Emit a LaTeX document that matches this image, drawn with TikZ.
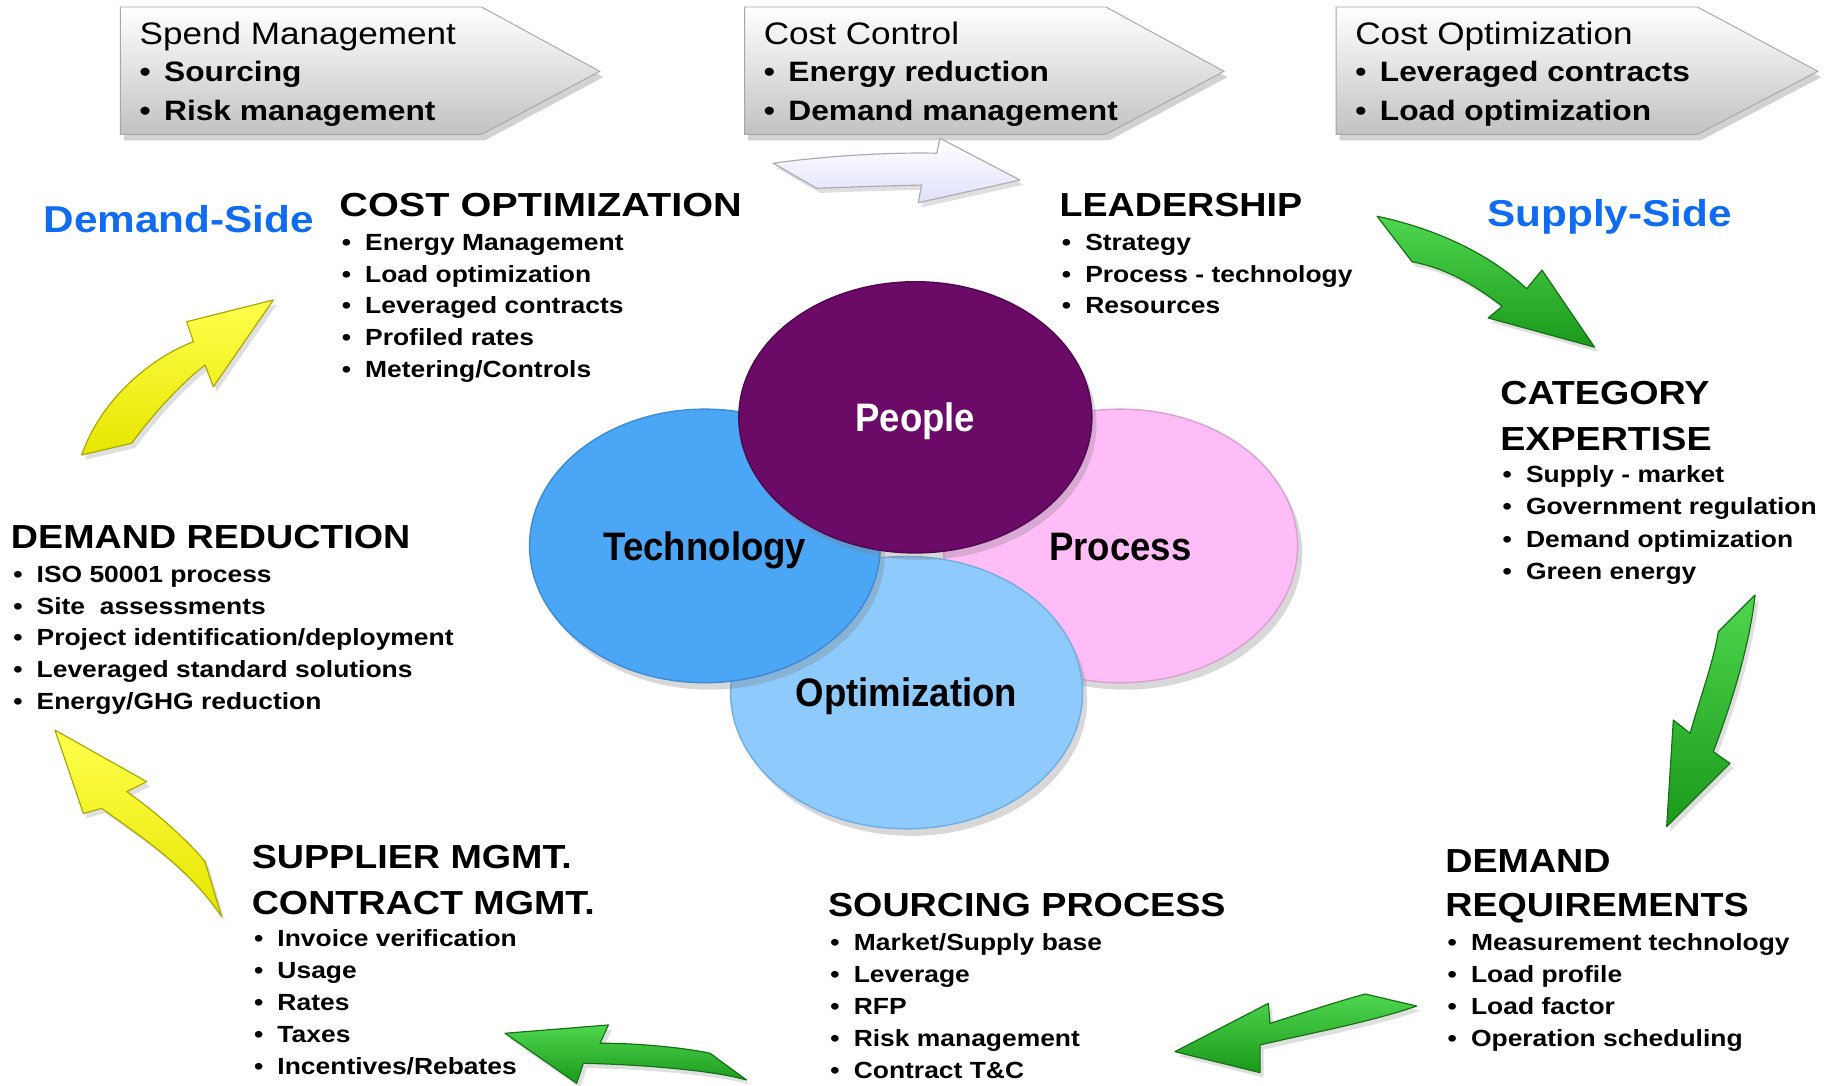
\documentclass[tikz,border=0pt]{standalone}
\usepackage{fontspec}
\setmainfont{Liberation Sans}[FakeStretch=1.13]
\newfontfamily\narrowf{Liberation Sans}[FakeStretch=0.92]
\newfontfamily\wideh{Liberation Sans}[FakeStretch=1.19]
\usetikzlibrary{shadows,shapes.geometric}
\definecolor{sideblue}{HTML}{0F6CF2}
\definecolor{techc}{HTML}{4BA6F5}
\definecolor{techd}{HTML}{3A8BD8}
\definecolor{procc}{HTML}{FFBDF7}
\definecolor{procd}{HTML}{D9A0D3}
\definecolor{peopc}{HTML}{6B0A67}
\definecolor{peopd}{HTML}{4F0750}
\definecolor{optic}{HTML}{8ECAFB}
\definecolor{optid}{HTML}{6FAFE6}
\definecolor{grA}{HTML}{4FD64F}
\definecolor{grB}{HTML}{1A991A}
\definecolor{grD}{HTML}{157015}
\definecolor{yeA}{HTML}{FFFF4D}
\definecolor{yeB}{HTML}{E6E600}
\definecolor{yeD}{HTML}{A8A800}
\definecolor{bangray}{HTML}{C2C2C2}
\newcommand\bm{\makebox[10pt][l]{•}}
\newcommand\bbm{\makebox[10.5pt][l]{•}}
\begin{document}
\begin{tikzpicture}[x=0.5pt,y=-0.5pt,
  hd/.style={anchor=base west, inner sep=0pt, font=\fontsize{14.25pt}{17pt}\selectfont\bfseries},
  bl/.style={anchor=base west, inner sep=0pt, font=\fontsize{10pt}{12pt}\selectfont\bfseries},
  banhd/.style={anchor=base west, inner sep=0pt, font=\fontsize{13.3pt}{16pt}\selectfont},
  banbl/.style={anchor=base west, inner sep=0pt, font=\fontsize{12pt}{14pt}\selectfont\bfseries},
  side/.style={anchor=base west, inner sep=0pt, font=\fontsize{16pt}{19pt}\selectfont\bfseries, text=sideblue},
  ell/.style={ellipse, inner sep=0pt, line width=0.6pt, text height=12.2pt, text depth=0pt,
    font=\narrowf\bfseries\fontsize{17pt}{20pt}\selectfont,
    drop shadow={shadow xshift=2pt, shadow yshift=-3pt, opacity=0.3}},
  banner/.style={top color=white, bottom color=bangray, draw=gray!70, line width=0.4pt,
    drop shadow={shadow xshift=1.5pt, shadow yshift=-2.5pt, opacity=0.35}},
  grarrow/.style={top color=grA, bottom color=grB, draw=grD, line width=0.5pt, line join=round,
    drop shadow={shadow xshift=1.5pt, shadow yshift=-2pt, opacity=0.25}},
  yearrow/.style={top color=yeA, bottom color=yeB, draw=yeD, line width=0.5pt, line join=round,
    drop shadow={shadow xshift=1.5pt, shadow yshift=-2pt, opacity=0.25}},
  silarrow/.style={top color=white, bottom color=blue!12, draw=gray!65, line width=0.5pt, line join=round,
    drop shadow={shadow xshift=1.5pt, shadow yshift=-2pt, opacity=0.25}}
]
\fill[white] (0,0) rectangle (1568,929);
\useasboundingbox (0,0) rectangle (1568,929);

% ---------- banners ----------
\path[banner] (103,6) -- (412,6) -- (513,61) -- (412,115) -- (103,115) -- cycle;
\path[banner] (637,6) -- (946,6) -- (1047,61) -- (946,115) -- (637,115) -- cycle;
\path[banner] (1143,6) -- (1452,6) -- (1555,61) -- (1452,115) -- (1143,115) -- cycle;

\node[banhd] (b1h) at (119,38.5) {Spend Management};
\node[banbl] (b1a) at (119,70) {\bbm Sourcing};
\node[banbl] (b1b) at (119,103) {\bbm Risk management};
\node[banhd] (b2h) at (653,38.5) {Cost Control};
\node[banbl] (b2a) at (653,70) {\bbm Energy reduction};
\node[banbl] (b2b) at (653,103) {\bbm Demand management};
\node[banhd] (b3h) at (1159,38.5) {Cost Optimization};
\node[banbl] (b3a) at (1159,70) {\bbm Leveraged contracts};
\node[banbl] (b3b) at (1159,103) {\bbm Load optimization};

% ---------- arrows ----------
\path[silarrow] (661.5,139.7) .. controls (700,134) and (760,130) .. (801.3,131.1)
  -- (804.1,118.3) -- (872.5,154) -- (785.5,173.4) -- (788.4,158.3)
  .. controls (760,159) and (725,160) .. (698.6,161.1) -- cycle;
\path[grarrow] (1178,185) .. controls (1230,196) and (1275,218) .. (1306,247)
  -- (1319,231) -- (1364,297) -- (1273,272) -- (1285,262)
  .. controls (1262,244) and (1236,229) .. (1208,224) -- cycle;
\path[grarrow] (1501.3,509) .. controls (1497,550) and (1482,600) .. (1465.6,643)
  -- (1479.9,653) -- (1425.7,707.2) -- (1431.4,615.9) -- (1445.7,627.3)
  .. controls (1455,595) and (1466,565) .. (1469.9,540.3) -- cycle;
\path[grarrow] (1167.7,850.3) .. controls (1140,858) and (1110,868) .. (1086.4,875.4)
  -- (1085,858.3) -- (1005.1,899.6) -- (1077.9,917.6) -- (1077.9,893.9)
  .. controls (1115,885) and (1170,875) .. (1211.9,860.6) -- cycle;
\path[grarrow] (607.4,901) .. controls (585,896) and (540,892) .. (513.3,892.5)
  -- (520.4,876.8) -- (432,883.9) -- (493.3,926.7) -- (499,909.6)
  .. controls (530,910) and (605,914) .. (638.7,923.9) -- cycle;
\path[yearrow] (189.6,784.2) -- (175.4,737.1) .. controls (160,718) and (130,692) .. (108.4,677.2)
  -- (125.5,668.7) -- (47,624.5) -- (71.3,695.8) -- (87,691.5)
  .. controls (115,712) and (160,740) .. cycle;
\path[yearrow] (69.9,389.2) .. controls (85,345) and (125,308) .. (165.4,292.3)
  -- (159.7,275.2) -- (233.8,256.6) -- (182.5,330.8) -- (175.4,312.2)
  .. controls (155,328) and (130,355) .. (112.7,379.2) -- cycle;

% ---------- ellipses ----------
\node[ell, fill=procc, draw=procd, minimum width=151.5pt, minimum height=117pt] (process) at (958.5,467) {Process};
\node[ell, fill=optic, draw=optid, minimum width=150.5pt, minimum height=116.5pt] (optim) at (775.5,592.5) {Optimization};
\node[ell, fill=techc, draw=techd, minimum width=150pt, minimum height=117pt] (tech) at (603,467) {Technology};
\node[ell, fill=peopc, draw=peopd, text=white, minimum width=151pt, minimum height=116pt] (people) at (783,357) {People};

% ---------- side labels ----------
\node[side] (dside) at (37,198.5) {Demand-Side};
\node[side] (sside) at (1272,193.5) {Supply-Side};

% ---------- text blocks ----------
\node[hd, font=\wideh\fontsize{14.25pt}{17pt}\selectfont\bfseries] (coh) at (290,185) {COST OPTIMIZATION};
\foreach \t [count=\i] in {Energy Management, Load optimization, Leveraged contracts, Profiled rates, Metering/Controls}
  \node[bl] (co\i) at (292,{214+(\i-1)*27.3}) {\bm\t};

\node[hd] (leh) at (906,185) {LEADERSHIP};
\foreach \t [count=\i] in {Strategy, Process - technology, Resources}
  \node[bl] (le\i) at (908,{214+(\i-1)*27.3}) {\bm\t};

\node[hd] (cah1) at (1283,346) {CATEGORY};
\node[hd] (cah2) at (1283,385) {EXPERTISE};
\foreach \t [count=\i] in {Supply - market, Government regulation, Demand optimization, Green energy}
  \node[bl] (ca\i) at (1285,{413+(\i-1)*27.5}) {\bm\t};

\node[hd] (drh) at (9,469) {DEMAND REDUCTION};
\foreach \t [count=\i] in {ISO 50001 process, Site\ \ assessments, Project identification/deployment, Leveraged standard solutions, Energy/GHG reduction}
  \node[bl] (dr\i) at (11,{498+(\i-1)*27.3}) {\bm\t};

\node[hd] (suh1) at (215,743) {SUPPLIER MGMT.};
\node[hd] (suh2) at (215,782) {CONTRACT MGMT.};
\foreach \t [count=\i] in {Invoice verification, Usage, Rates, Taxes, Incentives/Rebates}
  \node[bl] (su\i) at (217,{810+(\i-1)*27.3}) {\bm\t};

\node[hd] (soh) at (708,784) {SOURCING PROCESS};
\foreach \t [count=\i] in {Market/Supply base, Leverage, RFP, Risk management, Contract T\&C}
  \node[bl] (so\i) at (710,{813+(\i-1)*27.3}) {\bm\t};

\node[hd] (rqh1) at (1236,746) {DEMAND};
\node[hd] (rqh2) at (1236,784) {REQUIREMENTS};
\foreach \t [count=\i] in {Measurement technology, Load profile, Load factor, Operation scheduling}
  \node[bl] (rq\i) at (1238,{813+(\i-1)*27.3}) {\bm\t};
\end{tikzpicture}
\end{document}
